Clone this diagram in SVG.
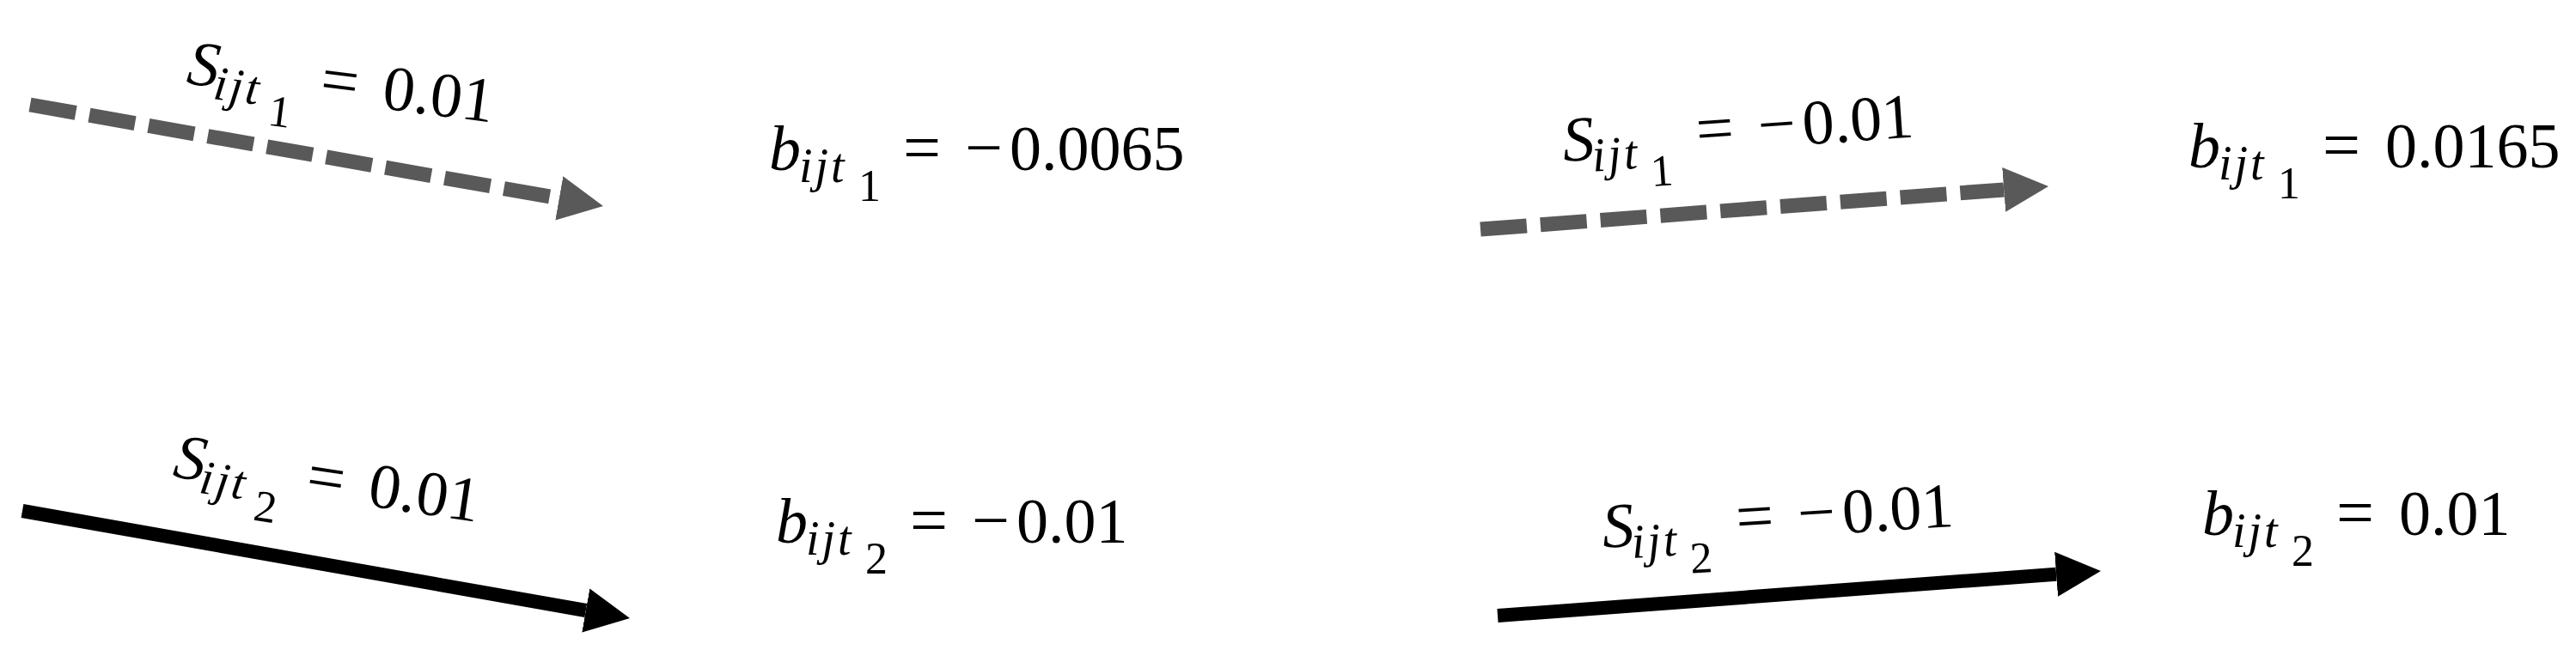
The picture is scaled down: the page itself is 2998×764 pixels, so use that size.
<svg xmlns="http://www.w3.org/2000/svg" width="2998" height="764" viewBox="0 0 2998 764">
<style>
text{font-family:'Liberation Serif','Times New Roman',serif;font-size:74px;fill:#000}
tspan.v{font-style:italic}
tspan.sub{font-style:italic;font-size:56px;letter-spacing:3px}
tspan.ss{font-size:52px}
tspan.op{font-size:78px}
.dash{stroke:#595959;stroke-width:17;fill:none;stroke-dasharray:54 16}
.solid{stroke:#000;stroke-width:16;fill:none}
</style>
<defs>
<marker id="ahGray" markerUnits="userSpaceOnUse" markerWidth="52" markerHeight="52" refX="0" refY="26" orient="auto" viewBox="0 0 52 52">
<path d="M0,0 L52,26 L0,52 Z" fill="#595959"/>
</marker>
<marker id="ahBlack" markerUnits="userSpaceOnUse" markerWidth="52" markerHeight="52" refX="0" refY="26" orient="auto" viewBox="0 0 52 52">
<path d="M0,0 L52,26 L0,52 Z" fill="#000"/>
</marker>
</defs>
<rect width="2998" height="764" fill="#fff"/>
<g id="connectors">
<line class="dash" x1="35" y1="122" x2="650.8" y2="230.9" marker-end="url(#ahGray)"/>
<line class="dash" x1="1723" y1="267" x2="2332.2" y2="220.9" marker-end="url(#ahGray)"/>
<line class="solid" x1="26" y1="595" x2="681.8" y2="711" marker-end="url(#ahBlack)"/>
<line class="solid" x1="1743" y1="717" x2="2393.1" y2="668.8" marker-end="url(#ahBlack)"/>
</g>
<g id="label-s1" transform="translate(216,97) rotate(7.3)">
<text><tspan class="v" x="0" y="0">S</tspan><tspan class="sub" x="33" y="14">ijt</tspan><tspan class="ss" x="100" y="36">1</tspan><tspan class="op" x="156" y="0">=</tspan><tspan x="229" y="0">0.01</tspan></text>
</g>
<g id="label-b1-left" transform="translate(895,198)">
<text><tspan class="v" x="0" y="0">b</tspan><tspan class="sub" x="35" y="14">ijt</tspan><tspan class="ss" x="104" y="36">1</tspan><tspan class="op" x="156" y="0">=</tspan><tspan class="op" x="228" y="0">−</tspan><tspan x="280" y="0">0.0065</tspan></text>
</g>
<g id="label-s1-right" transform="translate(1820,188) rotate(-4)">
<text><tspan class="v" x="0" y="0">S</tspan><tspan class="sub" x="33" y="14">ijt</tspan><tspan class="ss" x="100" y="36">1</tspan><tspan class="op" x="156" y="0">=</tspan><tspan class="op" x="228" y="0">−</tspan><tspan x="280" y="0">0.01</tspan></text>
</g>
<g id="label-b1-right" transform="translate(2547,195)">
<text><tspan class="v" x="0" y="0">b</tspan><tspan class="sub" x="35" y="14">ijt</tspan><tspan class="ss" x="104" y="36">1</tspan><tspan class="op" x="156" y="0">=</tspan><tspan x="229" y="0">0.0165</tspan></text>
</g>
<g id="label-s2" transform="translate(200,555) rotate(8.5)">
<text><tspan class="v" x="0" y="0">S</tspan><tspan class="sub" x="33" y="14">ijt</tspan><tspan class="ss" x="100" y="36">2</tspan><tspan class="op" x="156" y="0">=</tspan><tspan x="229" y="0">0.01</tspan></text>
</g>
<g id="label-b2-left" transform="translate(903,632)">
<text><tspan class="v" x="0" y="0">b</tspan><tspan class="sub" x="35" y="14">ijt</tspan><tspan class="ss" x="104" y="36">2</tspan><tspan class="op" x="156" y="0">=</tspan><tspan class="op" x="228" y="0">−</tspan><tspan x="280" y="0">0.01</tspan></text>
</g>
<g id="label-s2-right" transform="translate(1866,638) rotate(-3.5)">
<text><tspan class="v" x="0" y="0">S</tspan><tspan class="sub" x="33" y="14">ijt</tspan><tspan class="ss" x="100" y="36">2</tspan><tspan class="op" x="156" y="0">=</tspan><tspan class="op" x="228" y="0">−</tspan><tspan x="280" y="0">0.01</tspan></text>
</g>
<g id="label-b2-right" transform="translate(2563,623)">
<text><tspan class="v" x="0" y="0">b</tspan><tspan class="sub" x="35" y="14">ijt</tspan><tspan class="ss" x="104" y="36">2</tspan><tspan class="op" x="156" y="0">=</tspan><tspan x="229" y="0">0.01</tspan></text>
</g>
</svg>
